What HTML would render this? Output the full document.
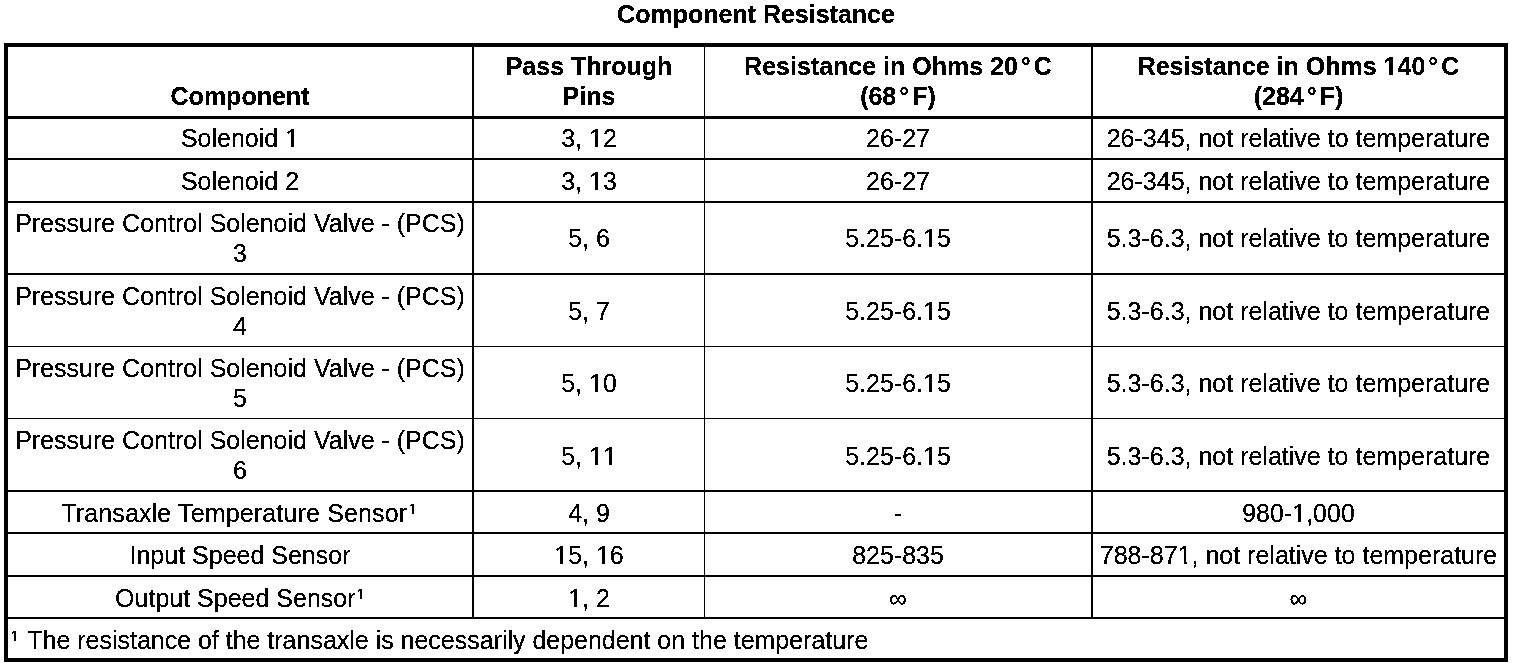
<!DOCTYPE html>
<html><head><meta charset="utf-8"><title>Component Resistance</title>
<style>
html,body{margin:0;padding:0;background:#fff;}
body{width:1520px;height:668px;overflow:hidden;position:relative;font-family:"Liberation Sans",Arial,Helvetica,sans-serif;color:#000;}
#pg{position:absolute;left:0;top:0;width:1520px;height:668px;background:#fff;filter:url(#bw);}
.l{position:absolute;background:#000;}
.t{position:absolute;line-height:1;white-space:nowrap;}
.r{font-size:25px;}
.b{font-size:25px;font-weight:bold;}
.dg{margin:0 3px;}
.o,.ob{position:relative;}
.o::before,.o::after,.ob::before,.ob::after{content:"";position:absolute;bottom:0;height:0.3em;background:#fff;}
.o::before{left:0;width:0.24em;}
.ob::before{left:0;width:0.2em;}
.ob::before,.ob::after{height:0.36em;}
.o::after{left:0.36em;right:0;}
.ob::after{left:0.39em;right:0;}
.s1 .o::before,.s1 .o::after,.s0 .o::before,.s0 .o::after{height:0.42em;}
.sb .o::before{width:0.2em;}
.sb{-webkit-text-stroke:0.3px #000;}
.s0{margin-right:1px;}
.s1,.s0{font-size:15px;position:relative;top:-8px;margin-left:1px;}
</style></head><body>
<svg width="0" height="0" style="position:absolute;left:0;top:0"><filter id="bw" x="0" y="0" width="100%" height="100%" color-interpolation-filters="sRGB"><feColorMatrix type="saturate" values="0"/><feComponentTransfer><feFuncR type="discrete" tableValues="0 0 1"/><feFuncG type="discrete" tableValues="0 0 1"/><feFuncB type="discrete" tableValues="0 0 1"/></feComponentTransfer></filter></svg>
<div id="pg">
<div class="l" style="left:4px;top:43px;width:1504px;height:4px"></div>
<div class="l" style="left:4px;top:116px;width:1504px;height:3px"></div>
<div class="l" style="left:4px;top:158px;width:1504px;height:2px"></div>
<div class="l" style="left:4px;top:201px;width:1504px;height:2px"></div>
<div class="l" style="left:4px;top:273px;width:1504px;height:2px"></div>
<div class="l" style="left:4px;top:346px;width:1504px;height:1px"></div>
<div class="l" style="left:4px;top:418px;width:1504px;height:1px"></div>
<div class="l" style="left:4px;top:490px;width:1504px;height:2px"></div>
<div class="l" style="left:4px;top:532px;width:1504px;height:2px"></div>
<div class="l" style="left:4px;top:575px;width:1504px;height:2px"></div>
<div class="l" style="left:4px;top:617px;width:1504px;height:2px"></div>
<div class="l" style="left:4px;top:658px;width:1504px;height:4px"></div>
<div class="l" style="left:4px;top:43px;width:4px;height:619px"></div>
<div class="l" style="left:1504px;top:43px;width:4px;height:619px"></div>
<div class="l" style="left:472px;top:43px;width:2px;height:576px"></div>
<div class="l" style="left:704px;top:43px;width:1px;height:576px"></div>
<div class="l" style="left:1091px;top:43px;width:2px;height:576px"></div>
<div class="t b" style="left:0px;width:1512px;top:2px;text-align:center;">Component Resistance</div>
<div class="t b" style="left:8px;width:464px;top:84px;text-align:center;">Component</div>
<div class="t b" style="left:474px;width:230px;top:54px;text-align:center;">Pass Through</div>
<div class="t b" style="left:474px;width:230px;top:84px;text-align:center;">Pins</div>
<div class="t b" style="left:705px;width:386px;top:54px;text-align:center;">Resistance in Ohms 20<span class="dg">&deg;</span>C</div>
<div class="t b" style="left:705px;width:386px;top:84px;text-align:center;">(68<span class="dg">&deg;</span>F)</div>
<div class="t b" style="left:1093px;width:411px;top:54px;text-align:center;">Resistance in Ohms <span class="ob">1</span>40<span class="dg">&deg;</span>C</div>
<div class="t b" style="left:1093px;width:411px;top:84px;text-align:center;">(284<span class="dg">&deg;</span>F)</div>
<div class="t r" style="left:8px;width:464px;top:126px;text-align:center;">Solenoid <span class="o">1</span></div>
<div class="t r" style="left:474px;width:230px;top:126px;text-align:center;">3, <span class="o">1</span>2</div>
<div class="t r" style="left:705px;width:386px;top:126px;text-align:center;">26-27</div>
<div class="t r" style="left:1093px;width:411px;top:126px;text-align:center;">26-345, not relative to temperature</div>
<div class="t r" style="left:8px;width:464px;top:169px;text-align:center;">Solenoid 2</div>
<div class="t r" style="left:474px;width:230px;top:169px;text-align:center;">3, <span class="o">1</span>3</div>
<div class="t r" style="left:705px;width:386px;top:169px;text-align:center;">26-27</div>
<div class="t r" style="left:1093px;width:411px;top:169px;text-align:center;">26-345, not relative to temperature</div>
<div class="t r" style="left:8px;width:464px;top:211px;text-align:center;">Pressure Control Solenoid Valve - (PCS)</div>
<div class="t r" style="left:8px;width:464px;top:241px;text-align:center;">3</div>
<div class="t r" style="left:474px;width:230px;top:226px;text-align:center;">5, 6</div>
<div class="t r" style="left:705px;width:386px;top:226px;text-align:center;">5.25-6.<span class="o">1</span>5</div>
<div class="t r" style="left:1093px;width:411px;top:226px;text-align:center;">5.3-6.3, not relative to temperature</div>
<div class="t r" style="left:8px;width:464px;top:284px;text-align:center;">Pressure Control Solenoid Valve - (PCS)</div>
<div class="t r" style="left:8px;width:464px;top:314px;text-align:center;">4</div>
<div class="t r" style="left:474px;width:230px;top:299px;text-align:center;">5, 7</div>
<div class="t r" style="left:705px;width:386px;top:299px;text-align:center;">5.25-6.<span class="o">1</span>5</div>
<div class="t r" style="left:1093px;width:411px;top:299px;text-align:center;">5.3-6.3, not relative to temperature</div>
<div class="t r" style="left:8px;width:464px;top:356px;text-align:center;">Pressure Control Solenoid Valve - (PCS)</div>
<div class="t r" style="left:8px;width:464px;top:386px;text-align:center;">5</div>
<div class="t r" style="left:474px;width:230px;top:371px;text-align:center;">5, <span class="o">1</span>0</div>
<div class="t r" style="left:705px;width:386px;top:371px;text-align:center;">5.25-6.<span class="o">1</span>5</div>
<div class="t r" style="left:1093px;width:411px;top:371px;text-align:center;">5.3-6.3, not relative to temperature</div>
<div class="t r" style="left:8px;width:464px;top:428px;text-align:center;">Pressure Control Solenoid Valve - (PCS)</div>
<div class="t r" style="left:8px;width:464px;top:458px;text-align:center;">6</div>
<div class="t r" style="left:474px;width:230px;top:444px;text-align:center;">5, <span class="o">1</span><span class="o">1</span></div>
<div class="t r" style="left:705px;width:386px;top:444px;text-align:center;">5.25-6.<span class="o">1</span>5</div>
<div class="t r" style="left:1093px;width:411px;top:444px;text-align:center;">5.3-6.3, not relative to temperature</div>
<div class="t r" style="left:8px;width:464px;top:501px;text-align:center;letter-spacing:0.15px;margin-left:-1px;">Transaxle Temperature Sensor<span class="s1"><span class="o">1</span></span></div>
<div class="t r" style="left:474px;width:230px;top:501px;text-align:center;">4, 9</div>
<div class="t r" style="left:705px;width:386px;top:501px;text-align:center;">-</div>
<div class="t r" style="left:1093px;width:411px;top:501px;text-align:center;">980-<span class="o">1</span>,000</div>
<div class="t r" style="left:8px;width:464px;top:543px;text-align:center;">Input Speed Sensor</div>
<div class="t r" style="left:474px;width:230px;top:543px;text-align:center;"><span class="o">1</span>5, <span class="o">1</span>6</div>
<div class="t r" style="left:705px;width:386px;top:543px;text-align:center;">825-835</div>
<div class="t r" style="left:1093px;width:411px;top:543px;text-align:center;">788-87<span class="o">1</span>, not relative to temperature</div>
<div class="t r" style="left:8px;width:464px;top:586px;text-align:center;">Output Speed Sensor<span class="s1 sb"><span class="o">1</span></span></div>
<div class="t r" style="left:474px;width:230px;top:586px;text-align:center;"><span class="o">1</span>, 2</div>
<div class="t r" style="left:705px;width:386px;top:586px;text-align:center;">&infin;</div>
<div class="t r" style="left:1093px;width:411px;top:586px;text-align:center;">&infin;</div>
<div class="t r" style="left:8px;width:1496px;top:628px;text-align:left;padding-left:2px;"><span class="s0 sb"><span class="o">1</span></span> <span style="letter-spacing:-0.015px">The resistance of the transaxle is necessarily dependent on the temperature</span></div>
</div>
</body></html>
